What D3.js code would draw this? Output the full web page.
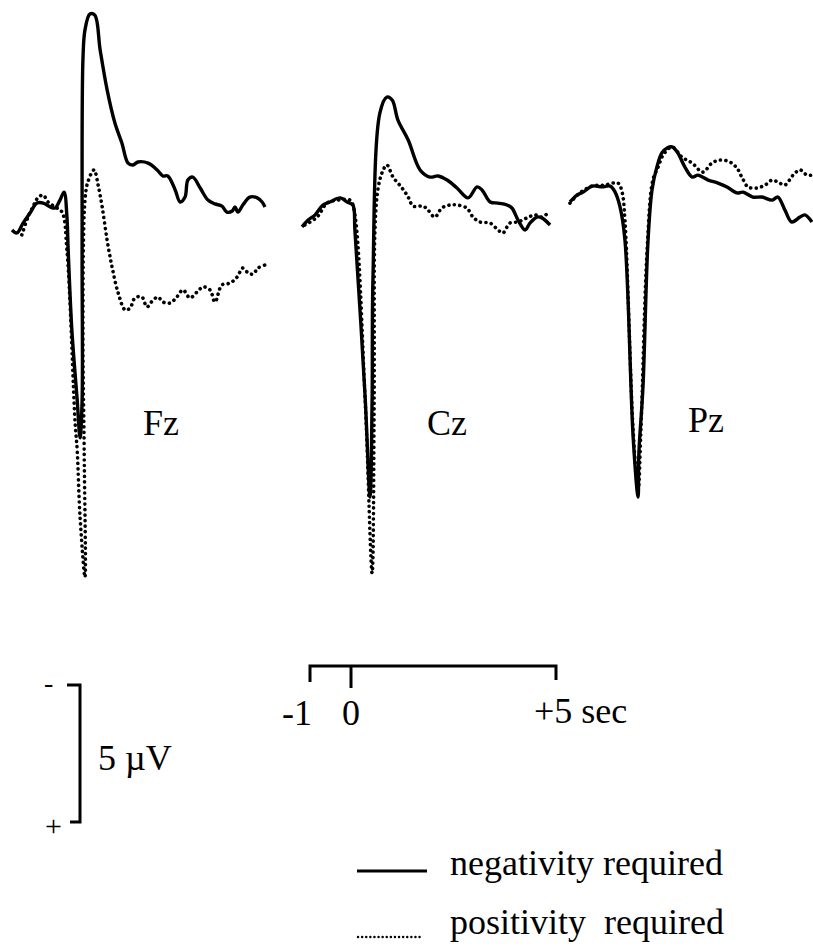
<!DOCTYPE html>
<html>
<head>
<meta charset="utf-8">
<script src="https://cdn.jsdelivr.net/npm/d3@7"></script>
<style>
  body { margin: 0; background: #fff; }
  svg { display: block; }
  text { font-family: "Liberation Serif", "Times New Roman", serif; fill: #000; }
</style>
</head>
<body>
<script>
// time in sec, amplitude in microvolt (negative drawn upwards)
let fzNeg = [[-1.00,0.91],[-0.88,1.02],[-0.73,0.66],[-0.56,0.29],[-0.39,-0.07],[-0.24,-0.07],[-0.07,0.07],[0.05,0.11],
  [0.17,-0.18],[0.27,-0.47],[0.34,0.44],[0.37,1.64],[0.46,4.56],[0.59,7.12],[0.66,8.50],[0.71,7.12],[0.71,1.64],
  [0.73,-5.29],[0.78,-6.39],[0.90,-6.97],[1.02,-6.93],[1.15,-5.66],[1.32,-4.20],[1.51,-2.99],[1.68,-2.26],[1.83,-1.53],
  [1.95,-1.46],[2.07,-1.57],[2.32,-1.53],[2.54,-1.28],[2.68,-1.06],[2.80,-1.06],[2.98,-0.55],[3.10,-0.11],[3.22,-0.29],
  [3.29,-0.91],[3.41,-1.02],[3.59,-0.62],[3.78,-0.18],[3.95,-0.04],[4.12,0.04],[4.24,0.26],[4.37,0.22],[4.44,0.07],
  [4.51,0.26],[4.63,0.00],[4.80,-0.29],[4.98,-0.26],[5.10,-0.11],[5.17,0.07]];
let fzPos = [[-0.76,1.09],[-0.61,0.44],[-0.49,0.07],[-0.37,-0.26],[-0.24,-0.36],[-0.12,-0.11],[0.05,0.07],[0.22,0.26],
  [0.34,1.64],[0.54,7.96],[0.59,8.94],[0.66,11.39],[0.78,13.58],[0.76,8.94],[0.73,4.56],[0.78,-0.18],[0.85,-0.84],
  [1.00,-1.28],[1.10,-0.73],[1.20,0.07],[1.32,1.28],[1.44,2.26],[1.59,3.21],[1.76,3.83],[1.88,3.76],[2.00,3.39],
  [2.17,3.36],[2.29,3.72],[2.44,3.47],[2.56,3.36],[2.68,3.54],[2.85,3.58],[3.02,3.36],[3.17,3.10],[3.34,3.39],
  [3.51,3.18],[3.66,2.99],[3.83,3.10],[3.95,3.54],[4.12,2.92],[4.32,2.85],[4.49,2.63],[4.63,2.30],[4.76,2.48],
  [4.88,2.52],[5.00,2.30],[5.17,2.19]];
let czNeg = [[-1.00,0.80],[-0.85,0.55],[-0.68,0.36],[-0.49,0.00],[-0.32,-0.11],[-0.07,-0.26],[0.10,-0.11],[0.24,0.00],
  [0.29,0.91],[0.54,7.01],[0.66,10.66],[0.71,7.12],[0.73,2.74],[0.90,-3.36],[1.07,-3.94],[1.20,-3.83],[1.34,-3.10],
  [1.59,-2.37],[1.88,-1.28],[2.12,-1.02],[2.32,-1.06],[2.54,-0.91],[2.78,-0.62],[3.05,-0.26],[3.27,-0.66],[3.39,-0.55],
  [3.59,-0.11],[3.78,-0.07],[4.00,0.00],[4.12,0.11],[4.27,0.55],[4.44,0.91],[4.56,0.66],[4.73,0.44],[4.85,0.47],[5.05,0.73]];
let czPos = [[-0.93,0.73],[-0.63,0.44],[-0.39,-0.07],[-0.12,-0.18],[0.17,-0.18],[0.27,0.18],[0.54,7.12],[0.71,13.43],
  [0.76,7.12],[0.78,0.91],[0.85,-0.55],[0.95,-1.17],[1.07,-1.46],[1.22,-1.02],[1.44,-0.62],[1.59,-0.29],[1.71,0.04],
  [1.95,0.04],[2.07,0.18],[2.24,0.44],[2.41,0.11],[2.61,0.00],[2.78,0.00],[3.02,0.11],[3.17,0.44],[3.34,0.62],
  [3.59,0.66],[3.78,0.91],[3.90,1.02],[4.07,0.66],[4.27,0.62],[4.49,0.47],[4.68,0.36],[4.85,0.44],[5.00,0.29]];
let pzNeg = [[-1.00,-0.11],[-0.83,-0.36],[-0.68,-0.47],[-0.46,-0.69],[-0.22,-0.66],[-0.02,-0.69],[0.10,-0.47],[0.22,0.07],
  [0.34,1.28],[0.54,8.47],[0.66,10.66],[0.68,9.05],[0.78,6.64],[0.90,1.39],[1.00,-0.55],[1.12,-1.39],[1.24,-1.90],
  [1.37,-2.08],[1.49,-2.12],[1.63,-1.90],[1.80,-1.39],[1.98,-1.02],[2.12,-1.09],[2.37,-0.91],[2.61,-0.80],[2.83,-0.66],
  [3.07,-0.44],[3.22,-0.47],[3.46,-0.29],[3.68,-0.29],[3.93,-0.18],[4.07,-0.29],[4.24,0.18],[4.41,0.62],[4.61,0.44],
  [4.73,0.36],[4.90,0.62]];
let pzPos = [[-1.00,-0.07],[-0.76,-0.44],[-0.46,-0.69],[-0.15,-0.73],[0.17,-0.80],[0.27,-0.47],[0.34,0.55],[0.54,8.21],
  [0.66,10.40],[0.73,8.21],[0.88,1.64],[1.02,-0.91],[1.15,-1.39],[1.27,-1.82],[1.49,-2.12],[1.73,-1.75],[1.98,-1.53],
  [2.24,-1.20],[2.46,-1.53],[2.66,-1.64],[2.90,-1.57],[3.07,-1.35],[3.20,-0.99],[3.34,-0.66],[3.56,-0.62],[3.76,-0.73],
  [3.93,-0.91],[4.07,-0.84],[4.24,-0.73],[4.44,-1.09],[4.61,-1.28],[4.78,-1.09],[4.90,-1.09]];

let sites = ["Fz", "Cz", "Pz"];
let negSeries = [fzNeg, czNeg, pzNeg];
let posSeries = [fzPos, czPos, pzPos];
let timeTicks = [-1, 0, 5];
let timeLabels = ["-1", "0", "+5 sec"];
let voltBar = 5;
let legendLabels = ["negativity required", "positivity  required"];

let width = 813, height = 947;
let svg = d3.select("body").append("svg")
  .attr("width", width)
  .attr("height", height);

// where each montage starts on the page
let panelLeft = [12, 302, 570];
let labelPos = [[143, 435], [427, 435], [688, 432]];
let pxPerSec = 41;

// shared amplitude scale, 0 uV sits at y=205
let yScale = d3.scaleLinear().domain([0, voltBar]).range([205, 342]);

let line = d3.line()
  .x(d => d[0])
  .y(d => d[1])
  .curve(d3.curveCatmullRom.alpha(0.5));

sites.forEach((site, i) => {
  let x = d3.scaleLinear().domain([-1, 5]).range([panelLeft[i], panelLeft[i] + 6 * pxPerSec]);
  let proj = s => s.map(p => [x(p[0]), yScale(p[1])]);

  svg.append("path")
    .attr("d", line(proj(posSeries[i])))
    .attr("fill", "none")
    .attr("stroke", "#000")
    .attr("stroke-width", 3.6)
    .attr("stroke-linecap", "round")
    .attr("stroke-dasharray", "0.1,5.4");

  svg.append("path")
    .attr("d", line(proj(negSeries[i])))
    .attr("fill", "none")
    .attr("stroke", "#000")
    .attr("stroke-width", 3.4)
    .attr("stroke-linejoin", "round");

  svg.append("text")
    .attr("x", labelPos[i][0])
    .attr("y", labelPos[i][1])
    .attr("font-size", 36)
    .text(site);
});

// time calibration bracket
let tScale = d3.scaleLinear().domain(d3.extent(timeTicks)).range([310, 556]);
let bracketY = 666;
svg.append("path")
  .attr("d", `M${tScale(-1)},${bracketY + 16}V${bracketY}H${tScale(5)}V${bracketY + 14}`)
  .attr("fill", "none")
  .attr("stroke", "#000")
  .attr("stroke-width", 3);
svg.append("line")
  .attr("x1", tScale(0)).attr("x2", tScale(0))
  .attr("y1", bracketY).attr("y2", bracketY + 22)
  .attr("stroke", "#000")
  .attr("stroke-width", 3);

svg.append("text").attr("x", tScale(timeTicks[0]) + 2).attr("y", 725).attr("font-size", 36)
  .attr("text-anchor", "end").text(timeLabels[0]);
svg.append("text").attr("x", tScale(timeTicks[1])).attr("y", 725).attr("font-size", 36)
  .attr("text-anchor", "middle").text(timeLabels[1]);
svg.append("text").attr("x", tScale(timeTicks[2]) - 22).attr("y", 723).attr("font-size", 36)
  .text(timeLabels[2]);

// amplitude calibration bracket
let vTop = 685;
let vLen = yScale(voltBar) - yScale(0);
svg.append("path")
  .attr("d", `M67,${vTop}H80V${vTop + vLen}H70`)
  .attr("fill", "none")
  .attr("stroke", "#000")
  .attr("stroke-width", 3);
svg.append("text").attr("x", 44).attr("y", 692).attr("font-size", 28).text("-");
svg.append("text").attr("x", 45).attr("y", 836).attr("font-size", 30).text("+");
svg.append("text").attr("x", 98).attr("y", 770).attr("font-size", 36).text(voltBar + " \u00b5V");

// legend
svg.append("line")
  .attr("x1", 357).attr("x2", 427).attr("y1", 871).attr("y2", 871)
  .attr("stroke", "#000").attr("stroke-width", 3);
svg.append("line")
  .attr("x1", 358).attr("x2", 422).attr("y1", 937).attr("y2", 937)
  .attr("stroke", "#000").attr("stroke-width", 2.4)
  .attr("stroke-linecap", "round")
  .attr("stroke-dasharray", "0.1,4");
legendLabels.forEach((lab, i) => {
  svg.append("text")
    .attr("x", 450)
    .attr("y", 875 + i * 59)
    .attr("font-size", 36)
    .style("white-space", "pre")
    .text(lab);
});
</script>
</body>
</html>
